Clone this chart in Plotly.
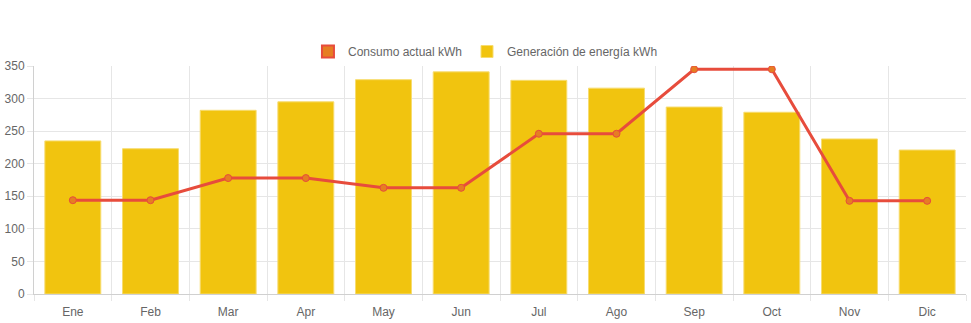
import plotly.graph_objects as go

meses = ["Ene", "Feb", "Mar", "Apr", "May", "Jun", "Jul", "Ago", "Sep", "Oct", "Nov", "Dic"]
generacion = [235, 223, 282, 295, 329, 341, 328, 316, 287, 279, 238, 221]
consumo = [144, 144, 178, 178, 163, 163, 246, 246, 345, 345, 143, 143]

fig = go.Figure()

# legend-only entry mimicking the box symbol
fig.add_trace(go.Bar(
    x=[None], y=[None], name="Consumo actual kWh",
    marker=dict(color="#E67E22", line=dict(color="#E74C3C", width=2)),
    showlegend=True,
))
fig.add_trace(go.Bar(
    x=meses, y=generacion, name="Generación de energía kWh",
    marker=dict(color="#F1C40F", line=dict(color="#F7DC6F", width=1)),
))
fig.add_trace(go.Scatter(
    x=meses, y=consumo, name="Consumo actual kWh", mode="lines+markers",
    line=dict(color="#E74C3C", width=3),
    marker=dict(color="#E67E22", size=7, line=dict(color="#E74C3C", width=1)),
    showlegend=False,
))

fig.update_layout(
    width=971, height=323,
    margin=dict(l=34, r=5, t=66, b=29),
    paper_bgcolor="white", plot_bgcolor="white",
    font=dict(family="Liberation Sans, Arial, sans-serif", size=12, color="#666"),
    bargap=0.28,
    barmode="overlay",
    legend=dict(orientation="h", x=0.4844, xanchor="center",
                y=1.0, yanchor="bottom",
                font=dict(size=12, color="#666"), traceorder="normal", itemwidth=30),
    showlegend=True,
)
fig.update_xaxes(
    type="category", tickson="boundaries", showgrid=True, gridcolor="#e6e6e6",
    ticks="outside", ticklen=6, tickcolor="#e6e6e6", ticklabelstandoff=7,
    showline=True, linecolor="#d0d0d0", range=[-0.5, 11.5],
)
fig.update_yaxes(
    range=[0, 350], dtick=50, showgrid=True, gridcolor="#e6e6e6",
    ticks="outside", ticklen=6, tickcolor="#e6e6e6",
    showline=True, linecolor="#d0d0d0", zeroline=False,
)

fig.write_html("out.html")
